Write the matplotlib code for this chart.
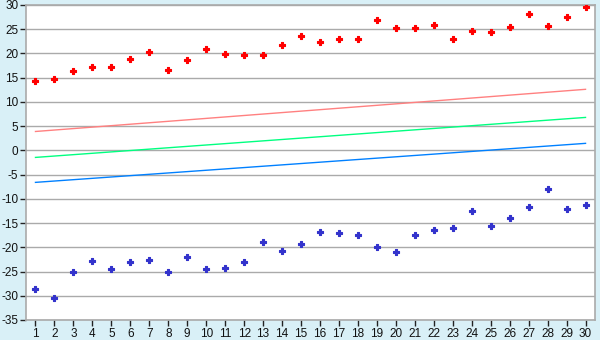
import matplotlib.pyplot as plt

# Tageswerte
days = list(range(1, 31))
upper = [14.4, 14.7, 16.4, 17.2, 17.2, 18.8, 20.3, 16.6, 18.6, 20.9,
         19.9, 19.7, 19.7, 21.7, 23.6, 22.4, 23.0, 23.0, 26.9, 25.3,
         25.3, 25.9, 23.0, 24.6, 24.4, 25.5, 28.2, 25.7, 27.5, 29.6]
lower = [-28.6, -30.4, -25.0, -22.8, -24.4, -23.0, -22.6, -25.0, -21.9, -24.4,
         -24.2, -23.0, -19.0, -20.7, -19.3, -16.8, -17.0, -17.4, -19.9, -20.9,
         -17.4, -16.4, -16.1, -12.6, -15.5, -13.9, -11.6, -7.9, -12.0, -11.2]

# Trendlinien: Wert bei Tag 1 und Tag 30
trend_x = [1, 30]
trend_red = [3.9, 12.6]
trend_green = [-1.45, 6.8]
trend_blue = [-6.6, 1.45]

plt.rcParams['font.family'] = ['Liberation Sans', 'DejaVu Sans']
plt.rcParams['axes.unicode_minus'] = False

fig = plt.figure(figsize=(6, 3.4), dpi=100, facecolor='#d9f0f7')
ax = fig.add_axes([26 / 600, 20 / 340, 569 / 600, 315 / 340])
ax.set_facecolor('white')

for yv in range(-35, 31, 5):
    ax.axhline(yv, color='#aaaaaa', lw=1, zorder=1)

ax.plot(trend_x, trend_red, color='#ff8080', lw=1, zorder=2)
ax.plot(trend_x, trend_green, color='#00ff80', lw=1, zorder=2)
ax.plot(trend_x, trend_blue, color='#0080ff', lw=1, zorder=2)

ax.scatter(days, upper, marker='P', s=20, color='#ff0000', edgecolors='#ff0000', lw=0.8, zorder=3)
ax.scatter(days, lower, marker='P', s=17, color='#3333cc', edgecolors='#3333cc', lw=0.8, zorder=3)

ax.set_xlim(0.5, 30.5)
ax.set_ylim(-35, 30)
ax.set_xticks(days)
ax.set_yticks(range(-35, 31, 5))

for sp in ax.spines.values():
    sp.set_color('#aaaaaa')
    sp.set_linewidth(1.2)

ax.tick_params(axis='both', length=4, width=1, color='#222222',
               labelsize=8.5, labelcolor='#111111', pad=1.5)

plt.savefig('out.png', dpi=100, facecolor=fig.get_facecolor())
